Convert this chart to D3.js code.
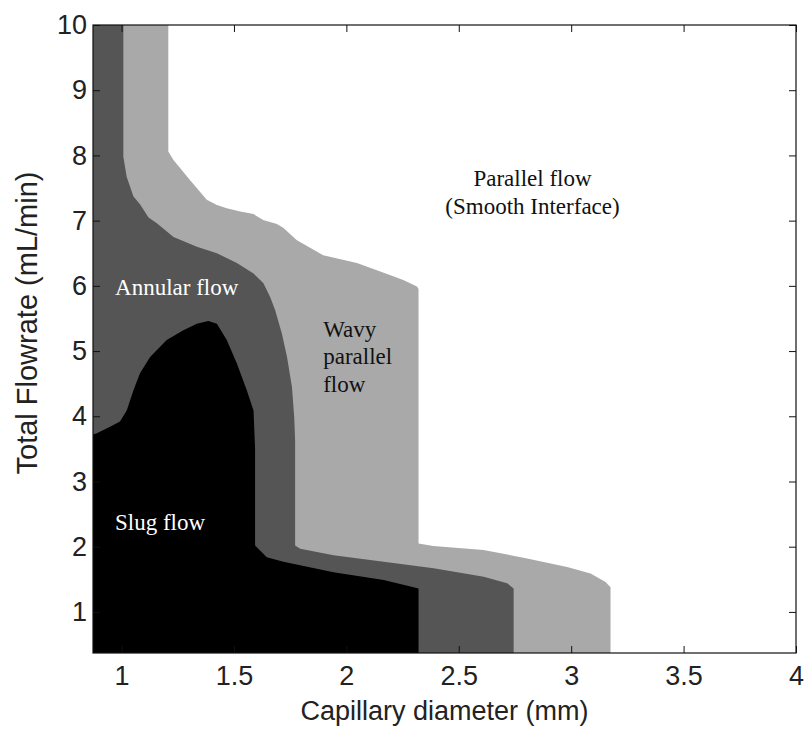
<!DOCTYPE html>
<html>
<head>
<meta charset="utf-8">
<script src="https://cdn.jsdelivr.net/npm/d3@7"></script>
<style>
  html, body { margin: 0; padding: 0; background: #fff; }
  svg { display: block; }
</style>
</head>
<body>
<svg id="chart" width="806" height="729"></svg>
<script>
// Axis extents (capillary diameter in mm, total flowrate in mL/min)
const xDomain = [0.873, 4];
const yDomain = [0.37, 10];
const xTicks = [1, 1.5, 2, 2.5, 3, 3.5, 4];
const yTicks = [1, 2, 3, 4, 5, 6, 7, 8, 9, 10];

// Upper edge of the wavy parallel flow regime (beyond it: smooth parallel flow)
const wavyLimit = [
  [1.208, 10], [1.208, 8.06], [1.231, 7.93], [1.305, 7.62], [1.379, 7.32],
  [1.424, 7.24], [1.468, 7.19], [1.528, 7.14], [1.587, 7.10], [1.63, 7.01],
  [1.691, 6.95], [1.719, 6.89], [1.78, 6.70], [1.897, 6.47], [2.047, 6.35],
  [2.151, 6.22], [2.253, 6.09], [2.314, 5.99], [2.321, 5.95], [2.321, 2.05],
  [2.387, 2.01], [2.61, 1.95], [2.804, 1.82], [2.982, 1.69], [3.086, 1.59],
  [3.153, 1.46], [3.175, 1.38], [3.175, 0.37]
];

// Upper edge of the annular flow regime
const annularLimit = [
  [1.008, 10], [1.008, 7.98], [1.023, 7.67], [1.053, 7.37], [1.082, 7.25],
  [1.12, 7.05], [1.157, 6.96], [1.231, 6.75], [1.335, 6.60], [1.424, 6.50],
  [1.513, 6.35], [1.587, 6.19], [1.631, 6.04], [1.661, 5.83], [1.683, 5.63],
  [1.713, 5.27], [1.736, 4.91], [1.758, 4.45], [1.768, 3.99], [1.772, 3.63],
  [1.772, 2.02], [1.795, 1.97], [1.943, 1.87], [2.166, 1.77], [2.388, 1.67],
  [2.611, 1.54], [2.715, 1.44], [2.744, 1.36], [2.744, 0.37]
];

// Upper edge of the slug flow regime
const slugLimit = [
  [0.873, 3.72], [0.89, 3.74], [0.949, 3.84], [0.993, 3.92], [1.023, 4.09],
  [1.053, 4.40], [1.082, 4.66], [1.127, 4.91], [1.201, 5.17], [1.275, 5.32],
  [1.335, 5.42], [1.386, 5.46], [1.424, 5.42], [1.468, 5.17], [1.513, 4.81],
  [1.557, 4.40], [1.587, 4.09], [1.594, 3.50], [1.594, 2.02], [1.646, 1.84],
  [1.72, 1.77], [1.943, 1.61], [2.166, 1.49], [2.299, 1.38], [2.321, 1.36],
  [2.321, 0.37]
];

// Regime labels: text lines, anchor point in data units, colour, alignment
const regimeLabels = [
  { lines: ["Annular flow"], x: 0.971, y: 5.857, color: "#fff", anchor: "start" },
  { lines: ["Slug flow"], x: 0.971, y: 2.25, color: "#fff", anchor: "start" },
  { lines: ["Wavy", "parallel", "flow"], x: 1.897, y: 5.22, color: "#111", anchor: "start" },
  { lines: ["Parallel flow", "(Smooth Interface)"], x: 2.828, y: 7.53, color: "#111", anchor: "middle" }
];

const svg = d3.select("#chart");
const margin = { left: 93, top: 25, right: 10, bottom: 76 };
const W = 806, H = 729;
const x = d3.scaleLinear().domain(xDomain).range([margin.left, W - margin.right]);
const y = d3.scaleLinear().domain(yDomain).range([H - margin.bottom, margin.top]);
const [x0, x1] = xDomain, [y0, y1] = yDomain;

svg.append("defs").append("clipPath").attr("id", "plotArea")
  .append("rect")
  .attr("x", x(x0)).attr("y", y(y1))
  .attr("width", x(x1) - x(x0)).attr("height", y(y0) - y(y1));

const line = d3.line().x(d => x(d[0])).y(d => y(d[1]));
const regions = svg.append("g").attr("clip-path", "url(#plotArea)");

regions.append("rect")
  .attr("x", x(x0)).attr("y", y(y1))
  .attr("width", x(x1) - x(x0)).attr("height", y(y0) - y(y1))
  .attr("fill", "#fff");

regions.append("path")
  .attr("d", line([[x0, y1], ...wavyLimit, [x0, y0]]) + "Z")
  .attr("fill", "#a9a9a9");

regions.append("path")
  .attr("d", line([[x0, y1], ...annularLimit, [x0, y0]]) + "Z")
  .attr("fill", "#555555");

regions.append("path")
  .attr("d", line([[x0, y0], ...slugLimit]) + "Z")
  .attr("fill", "#000");

// Regime labels
const lineGap = 27.5;
regimeLabels.forEach(l => {
  const t = svg.append("text")
    .attr("x", x(l.x)).attr("y", y(l.y))
    .attr("fill", l.color)
    .attr("text-anchor", l.anchor)
    .style("font-family", "'Liberation Serif', 'Times New Roman', serif")
    .style("font-size", "23px");
  l.lines.forEach((s, i) => {
    t.append("tspan").attr("x", x(l.x)).attr("dy", i === 0 ? 0 : lineGap).text(s);
  });
});

// Axes with inward ticks on all four sides
const tickFont = "'Liberation Sans', Arial, sans-serif";
const fmt = d => String(d);

const axisB = svg.append("g")
  .attr("transform", `translate(0,${y(y0)})`)
  .call(d3.axisBottom(x).tickValues(xTicks).tickFormat(fmt).tickSize(-7).tickSizeOuter(0).tickPadding(13));
const axisL = svg.append("g")
  .attr("transform", `translate(${x(x0)},0)`)
  .call(d3.axisLeft(y).tickValues(yTicks).tickFormat(fmt).tickSize(-7).tickSizeOuter(0).tickPadding(6));
const axisT = svg.append("g")
  .attr("transform", `translate(0,${y(y1)})`)
  .call(d3.axisTop(x).tickValues(xTicks).tickFormat("").tickSize(-7).tickSizeOuter(0));
const axisR = svg.append("g")
  .attr("transform", `translate(${x(x1)},0)`)
  .call(d3.axisRight(y).tickValues(yTicks).tickFormat("").tickSize(-7).tickSizeOuter(0));

[axisB, axisL, axisT, axisR].forEach(g => {
  g.select(".domain").remove();
  g.selectAll(".tick line").attr("stroke", "#111").attr("stroke-width", 1);
  g.selectAll(".tick text")
    .attr("fill", "#222")
    .style("font-family", tickFont)
    .style("font-size", "27px");
});

// Frame
svg.append("rect")
  .attr("x", x(x0)).attr("y", y(y1))
  .attr("width", x(x1) - x(x0)).attr("height", y(y0) - y(y1))
  .attr("fill", "none").attr("stroke", "#111").attr("stroke-width", 1.2);

// Axis titles
svg.append("text")
  .attr("x", (x(x0) + x(x1)) / 2).attr("y", 720)
  .attr("text-anchor", "middle")
  .attr("fill", "#222")
  .style("font-family", tickFont).style("font-size", "27px")
  .text("Capillary diameter (mm)");

svg.append("text")
  .attr("transform", `translate(37,323) rotate(-90)`)
  .attr("text-anchor", "middle")
  .attr("fill", "#222")
  .style("font-family", tickFont).style("font-size", "29px")
  .text("Total Flowrate (mL/min)");
</script>
</body>
</html>
